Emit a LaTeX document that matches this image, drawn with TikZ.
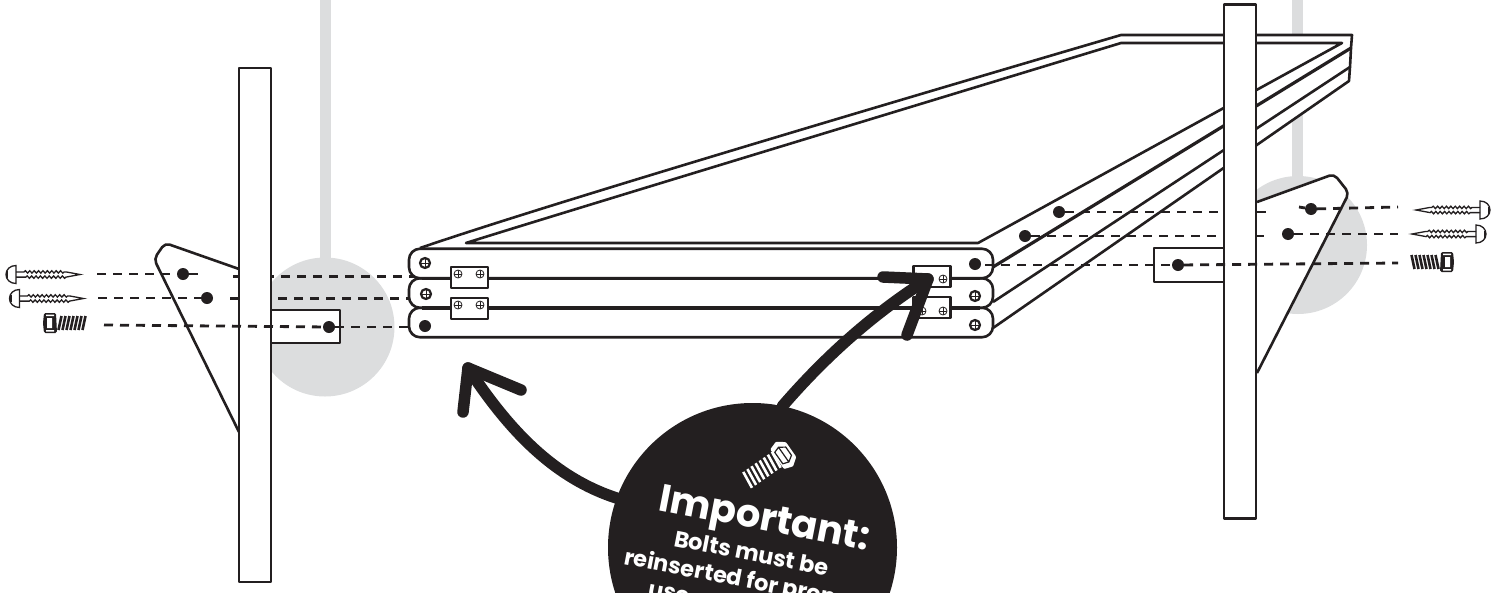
\documentclass[tikz,border=0pt]{standalone}
\usepackage{fontspec}
\setmainfont{Poppins}
\usetikzlibrary{decorations.pathmorphing}
\definecolor{ink}{HTML}{231F20}
\definecolor{backgrey}{HTML}{DCDDDE}
\tikzset{
  line/.style={draw=ink, line width=2.6pt, line join=round},
  post/.style={line, fill=white, minimum width=32pt, minimum height=514pt, inner sep=0pt},
  slat/.style={line, fill=white, minimum width=584pt, minimum height=29.5pt, inner sep=0pt, rounded corners=11pt},
  plate/.style={line, fill=white, minimum width=37pt, minimum height=21pt, inner sep=0pt},
  strap/.style={line, fill=white, inner sep=0pt},
  hole/.style={circle, fill=ink, minimum size=12pt, inner sep=0pt},
  capscrew/.style={circle, draw=ink, fill=white, line width=2.2pt, minimum size=10pt, inner sep=0pt,
    path picture={\draw[ink, line width=.8pt] (path picture bounding box.north) -- (path picture bounding box.south)
      (path picture bounding box.west) -- (path picture bounding box.east);}},
  tinyscrew/.style={capscrew, line width=.8pt, minimum size=8pt},
  guide/.style={draw=ink, line width=2.8pt, dash pattern=on 9pt off 7pt},
  bigarrow/.style={draw=ink, line width=11.5pt, line cap=round, line join=round},
  badgetext/.style={text=white, rotate=-11, anchor=base west, inner sep=0pt},
  woodscrew/.pic={
    \draw[ink, line width=1.3pt, fill=white] (0,-9) .. controls (-6,-9) and (-10,-5) .. (-10,0)
      .. controls (-10,5) and (-6,9) .. (0,9) -- cycle;
    \fill[ink] (-10,-3.5) rectangle (-8,3.5);
    \draw[ink, line width=1.3pt, decoration={snake, amplitude=1.2pt, segment length=4.4pt}]
      (0,-2.6) -- (8,-2.6) decorate {-- (50,-2.6)} -- (64,0) -- (50,2.6) decorate {-- (8,2.6)} -- (0,2.6);
  },
  hexbolt/.pic={
    \fill[ink, rounded corners=1.5pt] (-13,-10) -- (-1,-10) -- (0,10) -- (-13,10) -- (-14,0) -- cycle;
    \fill[white] (-10,-5) -- (-5,-5) -- (-5,5) -- (-10,5) -- cycle
      (-11,-8.5) -- (-3,-8.5) -- (-3,-7) -- (-11,-7) -- cycle
      (-11,8.5) -- (-3,8.5) -- (-3,7) -- (-11,7) -- cycle;
    \foreach \t in {3,7,...,27}
      \draw[ink, line width=2.6pt] (\t+1.5,-7) -- (\t-1.5,7);
  },
  whitebolt/.pic={
    \foreach \t in {2,7,...,37}
      \draw[white, line width=2.6pt] (\t+1,-9) -- (\t-1,9);
    \fill[white, rounded corners=1pt] (38,-12) -- (47,-15) -- (55,-9) -- (55,9) -- (47,15) -- (38,12) -- cycle;
    \draw[ink, line width=1.2pt] (40,-7) -- (46,-9) -- (52,-5) -- (52,5) -- (46,9) -- (40,7) -- cycle
      (46,-9) -- (46,9);
  },
}

\begin{document}
\begin{tikzpicture}[x=1pt, y=-1pt]
  \path[use as bounding box, clip] (0,0) rectangle (1494,592);

  % Grey pendulum shapes at the back
  \fill[backgrey] (320,0) rectangle (331,262);
  \fill[backgrey] (325,327) circle[radius=69.5];
  \fill[backgrey] (1292,0) rectangle (1303,180);
  \fill[backgrey] (1298,245) circle[radius=69];

  % Folded panel
  \path[fill=white] (420,248) .. controls (470,231) and (600,188) .. (1121,35) -- (1352,35)
    -- (1349,81) -- (993,328) -- (420,328) -- cycle;
  \draw[line] (420,248) .. controls (470,231) and (600,188) .. (1121,35) -- (1352,35)
    -- (1351,48) -- (1350,67) -- (1349,81) -- (993,328);
  \draw[line] (466,243) .. controls (510,229) and (700,171) .. (1121,43) -- (1342,43) -- (978,243) -- cycle;
  \draw[line, line width=3.2pt] (993,267) -- (1351,48);
  \draw[line] (993,302) -- (1350,67);

  \node[slat] (slatC) at (701,322.5) {};
  \node[slat] (slatB) at (701,293) {};
  \node[slat] (slatA) at (701,263.5) {};
  \draw[line, line width=3.8pt] (422,278.5) -- (980,278.5) (422,308) -- (980,308);

  % Plates on the panel
  \foreach \n/\x/\y in {plateA/469.5/277.5, plateB/469.5/308.5, plateC/932/276.5, plateD/932/307.5}
    \node[plate] (\n) at (\x,\y) {};
  \foreach \n/\x/\y in {tinyA/458/274, tinyB/480/274, tinyC/458/305, tinyD/480/305, tinyE/943/279, tinyF/922/311, tinyG/943/311}
    \node[tinyscrew] (\n) at (\x,\y) {};
  \foreach \n/\x/\y in {capA/425/263, capB/426/294, capC/975/296, capD/975/325}
    \node[capscrew] (\n) at (\x,\y) {};

  % Triangular brackets
  \draw[line, fill=white, rounded corners=5pt] (239,269) -- (165,243) -- (154,259) -- (239,432);
  \draw[line, fill=white, rounded corners=5pt] (1257,202) -- (1334,174) -- (1349,193) -- (1257,373);

  % Named ends of the guide lines
  \foreach \n/\x/\y in {endA/233/276.5, endB/415/276.5, endC/230/298.5, endD/410/298.5,
      endE/1268/212, endF/1265/236, endG/97/274, endH/200/274, endI/98/298,
      endJ/104/325, endK/415/327, endL/985/265, endM/1398/207, endN/1299/207,
      endO/1398/234, endP/1398/263}
    \coordinate (\n) at (\x,\y);
  \foreach \n/\x/\y in {holeF/1059/212, holeG/1025/236}
    \node[hole] (\n) at (\x,\y) {};

  % Guides that go behind the posts
  \draw[guide] (endA) -- (endB);
  \draw[guide] (endC) -- (endD);
  \draw[guide] (holeF) -- (endE);
  \draw[guide] (holeG) -- (endF);

  % Posts and straps
  \node[strap, minimum width=69pt, minimum height=33pt] (strapL) at (305.5,326.5) {};
  \node[strap, minimum width=70pt, minimum height=34pt] (strapR) at (1189,265) {};
  \node[post] (postL) at (255,325) {};
  \node[post] (postR) at (1240,261.5) {};

  \foreach \n/\x/\y in {holeA/183/274, holeB/207/298, holeC/329/327, holeD/425/326, holeE/975/264,
      holeH/1178/265, holeI/1311/209, holeJ/1288/234}
    \node[hole] (\n) at (\x,\y) {};

  % Guides in front
  \draw[guide] (endG) -- (holeA);
  \draw[guide] (holeA) -- (endH);
  \draw[guide] (endI) -- (holeB);
  \draw[guide] (endJ) -- (holeC);
  \draw[guide] (holeC) -- (endK);
  \draw[guide] (endL) -- (holeH);
  \draw[guide] (holeH) -- (endP);
  \draw[guide] (endN) -- (holeI);
  \draw[guide] (holeI) -- (endM);
  \draw[guide] (holeJ) -- (endO);

  % Screws and bolts
  \pic at (16,274.5) {woodscrew};
  \pic at (19.5,298.5) {woodscrew};
  \pic at (57,323) {hexbolt};
  \pic[xscale=-1] at (1480,210) {woodscrew};
  \pic[xscale=-1] at (1476,234) {woodscrew};
  \pic[xscale=-1] at (1440,262) {hexbolt};

  % Arrows and the badge
  \node[circle, fill=ink, minimum size=289pt, inner sep=0pt] (badge) at (752.5,547.5) {};
  \coordinate (tipA) at (468,368);
  \coordinate (headAa) at (463,412);
  \coordinate (headAb) at (521,390);
  \coordinate (tipB) at (928,279);
  \coordinate (headBa) at (883,277);
  \coordinate (headBb) at (907,335);
  \draw[bigarrow] (badge.160) .. controls (555,478) and (510,432) .. (tipA);
  \draw[bigarrow] (headAa) -- (tipA) -- (headAb);
  \draw[bigarrow] (badge.78) .. controls (812,372) and (860,322) .. (tipB);
  \draw[bigarrow] (headBa) -- (tipB) -- (headBb);

  \pic[rotate=35] at (746,481) {whitebolt};
  \node[badgetext, font=\bfseries\fontsize{38.5}{38.5}\selectfont] (title) at (657,510) {Important:};
  \node[badgetext, font=\bfseries\fontsize{22.5}{22.5}\selectfont] (lineA) at (673,546) {Bolts must be};
  \node[badgetext, font=\bfseries\fontsize{22.5}{22.5}\selectfont] (lineB) at (623,564) {reinserted for proper};
  \node[badgetext, font=\bfseries\fontsize{22.5}{22.5}\selectfont] (lineC) at (647,596) {use};
\end{tikzpicture}
\end{document}
